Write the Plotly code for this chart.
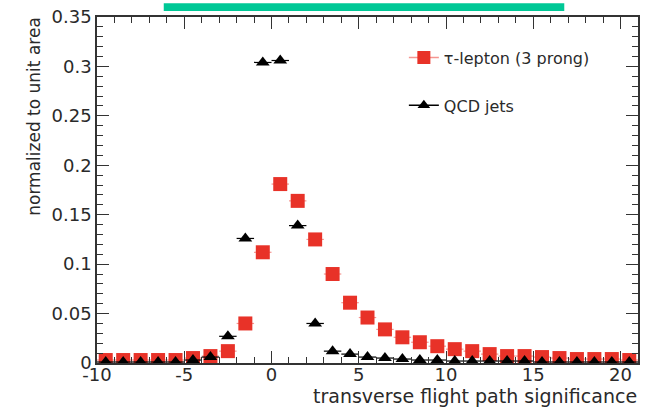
import plotly.graph_objects as go

# Bin centres of the transverse flight path significance histogram (bin width 1)
bin_centers = [-9.5 + i for i in range(31)]

# tau-lepton (3 prong), normalized to unit area
tau_values = [0.003, 0.003, 0.003, 0.003, 0.003, 0.005, 0.007, 0.012, 0.040, 0.112,
              0.181, 0.164, 0.125, 0.090, 0.061, 0.046, 0.034, 0.026, 0.021, 0.017,
              0.014, 0.012, 0.009, 0.007, 0.007, 0.006, 0.005, 0.004, 0.004, 0.004,
              0.003]

# QCD jets, normalized to unit area
qcd_values = [0.001, 0.001, 0.001, 0.001, 0.001, 0.003, 0.006, 0.027, 0.126, 0.304,
              0.306, 0.139, 0.040, 0.012, 0.009, 0.006, 0.005, 0.004, 0.003, 0.003,
              0.002, 0.002, 0.002, 0.002, 0.002, 0.001, 0.001, 0.001, 0.001, 0.001,
              0.001]

half_width = 0.5

x_ticks = [-10, -5, 0, 5, 10, 15, 20]
y_ticks = [0, 0.05, 0.1, 0.15, 0.2, 0.25, 0.3, 0.35]

RED = "rgb(232,50,40)"
PINK = "rgb(245,150,145)"
TEXT = "#2a2a2a"
FONT = "DejaVu Sans, Verdana, sans-serif"

fig = go.Figure()

fig.add_trace(go.Scatter(
    x=bin_centers, y=tau_values, mode="markers",
    marker=dict(symbol="square", size=14, color=RED),
    error_x=dict(type="constant", value=half_width, width=0, thickness=1.2, color=PINK),
    showlegend=False,
))
fig.add_trace(go.Scatter(
    x=bin_centers, y=qcd_values, mode="markers",
    marker=dict(symbol="triangle-up", size=12, color="black"),
    error_x=dict(type="constant", value=half_width, width=0, thickness=1.2, color="black"),
    showlegend=False,
))

# legend entries
fig.add_trace(go.Scatter(
    x=[None], y=[None], mode="lines+markers", name="τ-lepton (3 prong)",
    line=dict(color=PINK, width=1.5),
    marker=dict(symbol="square", size=13, color=RED),
    legendgroup="tau",
))
fig.add_trace(go.Scatter(
    x=[None], y=[None], mode="lines+markers", name="QCD jets",
    line=dict(color="black", width=1.5),
    marker=dict(symbol="triangle-up", size=11, color="black"),
    legendgroup="qcd",
))

W, H = 646, 408
L, R, T, B = 97, 6, 12, 45
pw, ph = W - L - R, H - T - B


def px_x(p):
    return (p - L) / pw


def px_y(p):
    return (H - B - p) / ph


axis_common = dict(
    showgrid=False, zeroline=False, showline=True, linecolor="#333", linewidth=1.5,
    mirror="ticks", ticks="inside", ticklen=12, tickwidth=1.2, tickcolor="#333",
    tickfont=dict(family=FONT, size=18, color=TEXT),
)

fig.update_xaxes(
    range=[-10, 21], tickmode="array", tickvals=x_ticks,
    ticktext=[str(v) for v in x_ticks], ticklabelstandoff=-5,
    minor=dict(dtick=1, ticks="inside", ticklen=6, tickwidth=1, tickcolor="#333"),
    **axis_common,
)
fig.update_yaxes(
    range=[0, 0.35], tickmode="array", tickvals=y_ticks,
    ticktext=["0", "0.05", "0.1", "0.15", "0.2", "0.25", "0.3", "0.35"],
    minor=dict(dtick=0.01, ticks="inside", ticklen=6, tickwidth=1, tickcolor="#333"),
    **axis_common,
)

fig.update_layout(
    width=W, height=H,
    margin=dict(l=L, r=R, t=T, b=B),
    paper_bgcolor="white", plot_bgcolor="white",
    legend=dict(
        x=px_x(405), y=px_y(36), xanchor="left", yanchor="top",
        traceorder="grouped", tracegroupgap=24,
        bgcolor="rgba(0,0,0,0)",
        font=dict(family=FONT, size=16, color=TEXT),
    ),
    shapes=[dict(
        type="rect", xref="paper", yref="paper",
        x0=px_x(164), x1=px_x(566), y0=px_y(6), y1=px_y(-2),
        fillcolor="rgb(0,200,150)", line=dict(width=0),
    )],
    annotations=[
        dict(text="transverse flight path significance", xref="paper", yref="paper",
             x=px_x(641), y=px_y(396), xanchor="right", yanchor="middle",
             showarrow=False, font=dict(family=FONT, size=19, color=TEXT)),
        dict(text="normalized to unit area", xref="paper", yref="paper",
             x=px_x(33), y=px_y(10), xanchor="center", yanchor="top", textangle=-90,
             showarrow=False, font=dict(family=FONT, size=17, color=TEXT)),
    ],
)

fig.write_html("out.html")
